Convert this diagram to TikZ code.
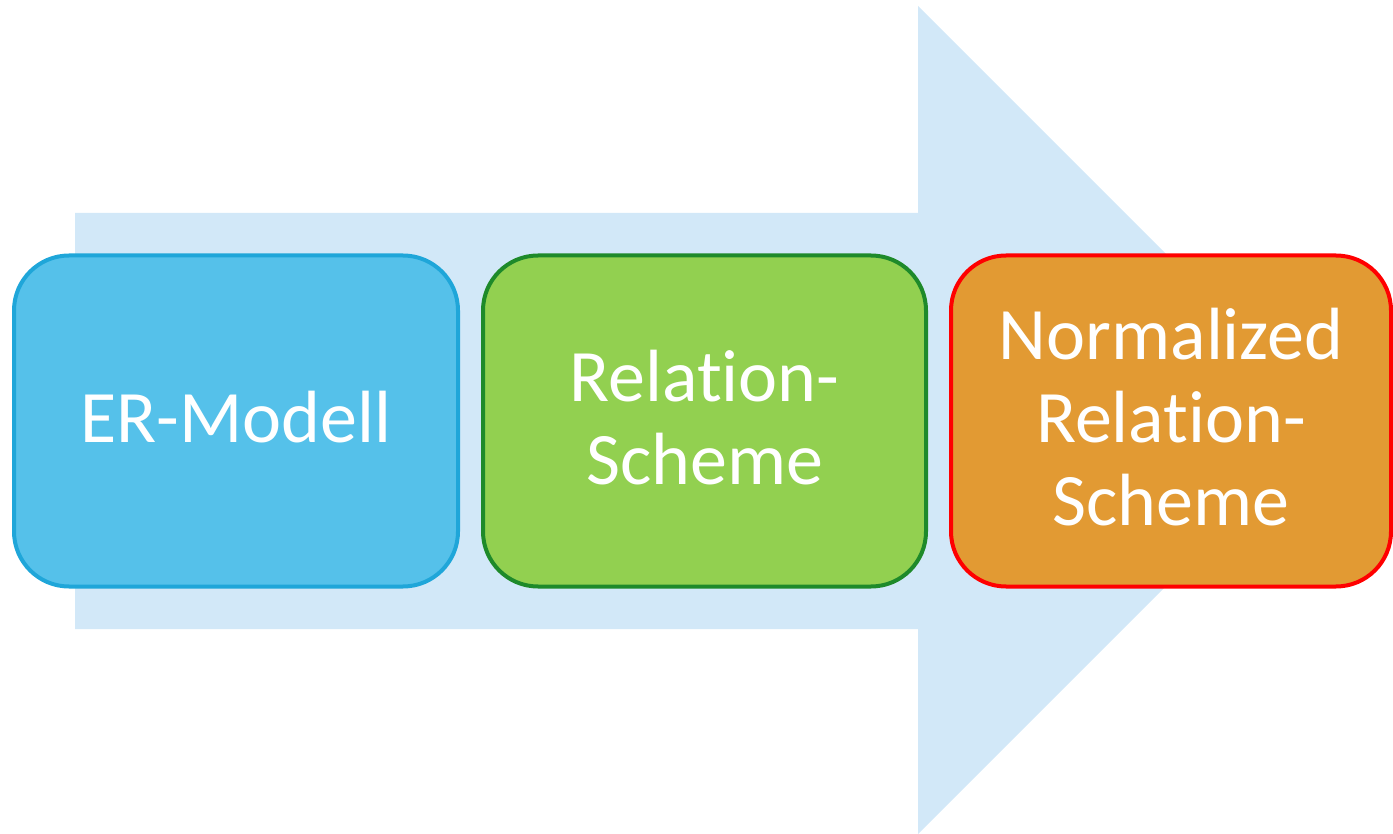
\documentclass[tikz,border=0pt]{standalone}
\usepackage{fontspec}
\setmainfont{Carlito}[Ligatures=NoCommon]
\definecolor{arrowfill}{HTML}{D2E8F8}
\definecolor{erfill}{HTML}{55C1EA}
\definecolor{erline}{HTML}{1FA6D9}
\definecolor{relfill}{HTML}{92D050}
\definecolor{relline}{HTML}{1E8A2A}
\definecolor{normfill}{HTML}{E29A33}
\definecolor{normline}{HTML}{FF0000}
\tikzset{
  stagebox/.style={draw, line width=4pt, rounded corners=55pt, inner sep=0pt,
    minimum height=331pt, text=white, align=center, text depth=8pt,
    font=\fontsize{74}{83}\selectfont}
}
\begin{document}
\begin{tikzpicture}[x=1pt, y=-1pt]
  \useasboundingbox (0,0) rectangle (1393,834);
  % big process arrow in the background
  \fill[arrowfill] (75,213) -- (918,213) -- (918,6) -- (1332,420)
    -- (918,834) -- (918,629) -- (75,629) -- cycle;
  % the three stages
  \node[stagebox, fill=erfill, draw=erline, minimum width=444pt] (er) at (236,421) {ER-Modell};
  \node[stagebox, fill=relfill, draw=relline, minimum width=443pt] (rel) at (704.5,421) {Relation-\\Scheme};
  \node[stagebox, fill=normfill, draw=normline, minimum width=440pt] (norm) at (1171,421) {Normalized\\Relation-\\Scheme};
\end{tikzpicture}
\end{document}
